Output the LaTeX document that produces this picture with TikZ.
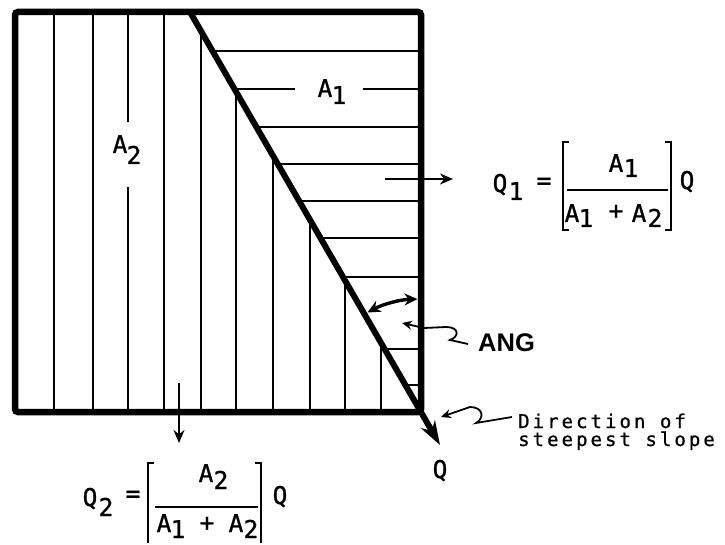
\documentclass[tikz,border=0pt]{standalone}
\usepackage{fontspec}
\usetikzlibrary{arrows.meta}
\newfontfamily\monof{DejaVu Sans Mono}[FakeBold=1]
\newfontfamily\monols{DejaVu Sans Mono}[LetterSpace=16,FakeBold=0.8]
\newfontfamily\angf{Liberation Sans}
\begin{document}
\begin{tikzpicture}[x=1pt,y=-1pt,
  lbl/.style={inner sep=0pt, anchor=base, font=\monof\fontsize{24.5}{26}\selectfont},
  dirtxt/.style={inner sep=0pt, anchor=base west, font=\monols\fontsize{19}{19}\selectfont},
  hatch/.style={line width=1.4pt},
  frame/.style={line width=6.5pt, rounded corners=3pt},
  brk/.style={line width=2.2pt},
  bar/.style={line width=1.8pt},
  flow/.style={line width=2.2pt, -{Stealth[length=13pt,width=11pt]}},
  squig/.style={line width=1.8pt, -{Stealth[length=10pt,width=9pt]}}]
\useasboundingbox (0,0) rectangle (725,545);
% vertical hatching (A2 side)
\begin{scope}
  \clip (15,12) -- (190,12) -- (421,412) -- (15,412) -- cycle;
  \foreach \x in {54,93,164,201,236,273,310,345,381} \draw[hatch] (\x,0) -- (\x,420);
  \draw[hatch] (128,0) -- (128,122);
  \draw[hatch] (128,187) -- (128,420);
\end{scope}
% horizontal hatching (A1 side)
\begin{scope}
  \clip (190,12) -- (421,12) -- (421,412) -- cycle;
  \foreach \y in {51,127,164,201,238,277,349,385} \draw[hatch] (150,\y) -- (430,\y);
  \draw[hatch] (150,89) -- (295,89);
  \draw[hatch] (363,89) -- (430,89);
\end{scope}
% frame
\draw[frame] (15,12) rectangle (421,412);
% direction of steepest slope
\coordinate (top) at (190,12);
\coordinate (corner) at (421,412);
\coordinate (tip) at (440,445);
\draw[line width=6pt, -{Stealth[length=24pt,width=16pt]}] (top) -- (tip);
% angle arc
\draw[line width=3.4pt, {Stealth[length=13pt,width=12pt]}-{Stealth[length=13pt,width=12pt]}]
  (corner) ++(-91.8:113) arc[start angle=-91.8, end angle=-118.3, radius=113];
% area labels
\node[lbl] (a1A) at (325,97) {A};
\node[lbl] (a1s) at (339,104) {1};
\node[lbl] (a2A) at (120,153) {A};
\node[lbl] (a2s) at (134,164) {2};
% Q1 outflow
\coordinate (q1from) at (385,179);
\coordinate (q1to) at (453,179);
\draw[flow] (q1from) -- (q1to);
\node[lbl] (q1Q) at (500,192) {Q};
\node[lbl] (q1s) at (516,200) {1};
\node[lbl] (q1eq) at (544,189) {=};
\node[lbl] (q1nA) at (616,172) {A};
\node[lbl] (q1ns) at (631,177) {1};
\node[lbl] (q1dA) at (572,222) {A};
\node[lbl] (q1d1) at (586,227) {1};
\node[lbl] (q1pl) at (616,219) {+};
\node[lbl] (q1dB) at (639,222) {A};
\node[lbl] (q1d2) at (655,227) {2};
\node[lbl] (q1Qr) at (687,189) {Q};
\draw[bar] (567,190) -- (668,190);
\draw[brk] (569,142) -- (563,142) -- (563,230) -- (569,230);
\draw[brk] (665,142) -- (671,142) -- (671,230) -- (665,230);
% Q2 outflow
\coordinate (q2from) at (179,383);
\coordinate (q2to) at (179,443);
\draw[flow] (q2from) -- (q2to);
\node[lbl] (q2Q) at (90,506) {Q};
\node[lbl] (q2s) at (106,516) {2};
\node[lbl] (q2eq) at (133,502) {=};
\node[lbl] (q2nA) at (206,482) {A};
\node[lbl] (q2ns) at (221,489) {2};
\node[lbl] (q2dA) at (164,532) {A};
\node[lbl] (q2d1) at (178,538) {1};
\node[lbl] (q2pl) at (207,531) {+};
\node[lbl] (q2dB) at (236,532) {A};
\node[lbl] (q2d2) at (251,538) {2};
\node[lbl] (q2Qr) at (280,504) {Q};
\draw[bar] (155,507) -- (258,507);
\draw[brk] (154,463) -- (148,463) -- (148,543);
\draw[brk] (255,463) -- (261,463) -- (261,543);
% total Q
\node[lbl] (qtot) at (440,478) {Q};
% ANG label and pointer
\node[inner sep=0pt, anchor=base west, font=\angf\bfseries\fontsize{25.5}{28}\selectfont] (ang) at (478,351) {ANG};
\coordinate (angstart) at (468,344);
\coordinate (angtip) at (402,323);
\draw[squig] (angstart) -- (450,340) .. controls (459,337) and (460,327) .. (446,327) -- (424,328) -- (angtip);
% direction label and pointer
\node[dirtxt] (dir1) at (518,428) {Direction of};
\node[dirtxt] (dir2) at (518,446) {steepest slope};
\coordinate (dirstart) at (512,417);
\coordinate (dirtip) at (441,417);
\draw[squig] (dirstart) -- (476,423) .. controls (485,418) and (483,407) .. (470,407) -- (dirtip);
\end{tikzpicture}
\end{document}
